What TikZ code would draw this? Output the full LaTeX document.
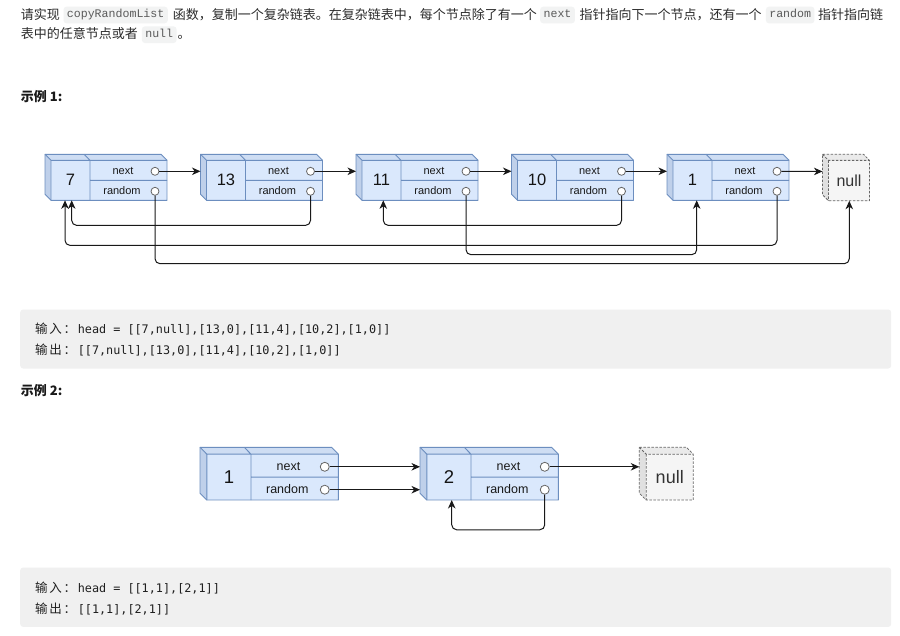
\documentclass[tikz,border=0pt]{standalone}
\usepackage{fontspec}
\setmainfont{Liberation Sans}
\newfontfamily\cjk{Noto Sans CJK SC}
\newfontfamily\imono{Liberation Mono}
\newfontfamily\dmono{DejaVu Sans Mono}
\usetikzlibrary{arrows.meta}
\definecolor{nfill}{HTML}{DAE8FC}
\definecolor{nline}{HTML}{6C8EBF}
\definecolor{nside}{HTML}{BFD0EA}
\definecolor{ntop}{HTML}{CEDDF3}
\definecolor{gfill}{HTML}{F5F5F5}
\definecolor{gline}{HTML}{666666}
\definecolor{gside}{HTML}{E0E0E0}
\definecolor{gtop}{HTML}{EAEAEA}
\definecolor{codebg}{HTML}{F0F0F0}
\definecolor{icbg}{HTML}{F2F3F3}
\definecolor{txt}{HTML}{2B2B2B}
\definecolor{ictxt}{HTML}{5A5A5A}
\tikzset{
  body/.style={font=\cjk\fontsize{13}{15}\selectfont, text=txt, inner sep=0pt, anchor=base west},
  head/.style={font=\cjk\bfseries\fontsize{13}{15}\selectfont, text=black!90, inner sep=0pt, anchor=base west},
  ic/.style={font=\imono\fontsize{11.6}{13}\selectfont, text=ictxt, fill=icbg, rounded corners=3pt,
    inner xsep=3.4pt, inner ysep=0pt, minimum height=16.6pt, text height=8pt, text depth=2.4pt, anchor=west},
  codeblk/.style={fill=codebg, rounded corners=3pt, draw=none, anchor=north west, inner sep=0pt},
  codeline/.style={font=\dmono\fontsize{11.8}{14}\selectfont, text=black!88, inner sep=0pt, anchor=base west},
  valA/.style={font=\fontsize{16.5}{18}\selectfont, text=black!92, inner sep=0pt},
  valB/.style={font=\fontsize{18.5}{20}\selectfont, text=black!92, inner sep=0pt},
  fldA/.style={font=\fontsize{11}{12}\selectfont, text=black!90, inner sep=0pt},
  fldB/.style={font=\fontsize{12.5}{14}\selectfont, text=black!90, inner sep=0pt},
  portA/.style={circle, draw=gline, fill=white, line width=0.8pt, minimum size=8pt, inner sep=0pt},
  portB/.style={circle, draw=gline, fill=white, line width=0.8pt, minimum size=9pt, inner sep=0pt},
  nullA/.style={font=\fontsize{16}{18}\selectfont, text=black!80, inner sep=0pt},
  nullB/.style={font=\fontsize{18}{20}\selectfont, text=black!80, inner sep=0pt},
  link/.style={draw=black!90, line width=1pt, rounded corners=5pt, -{Stealth[length=8.5pt,width=7.5pt,inset=2.6pt]}},
}
\newcommand{\cjkcell}[1]{\makebox[14.2pt][l]{\cjk\fontsize{12.5}{14}\selectfont #1}}
% list node: name, X, Y, xscale, yscale, value, size tag
\newcommand{\lnode}[7]{%
  \begin{scope}[shift={(#2,#3)},xscale=#4,yscale=#5]
    \fill[nside] (0,0) -- (6,6) -- (6,46) -- (0,40) -- cycle;
    \fill[ntop] (0,0) -- (116,0) -- (122,6) -- (6,6) -- cycle;
    \fill[nfill] (6,6) rectangle (122,46);
    \draw[nline, line width=0.9pt, line join=round] (0,0) -- (116,0) -- (122,6) -- (122,46) -- (6,46) -- (0,40) -- cycle;
    \draw[nline, line width=0.9pt] (0,0) -- (6,6) -- (122,6) (6,6) -- (6,46) (39,0) -- (45,6) -- (45,46) (45,26) -- (122,26);
    \node[val#7] (#1v) at (25.5,26) {#6};
    \node[fld#7] (#1nt) at (78,16.8) {next};
    \node[fld#7] (#1rt) at (77,36.4) {random};
    \node[port#7] (#1n) at (110,17) {};
    \node[port#7] (#1r) at (110,37) {};
    \coordinate (#1w) at (0,17);
    \coordinate (#1x) at (0,37);
    \coordinate (#1b) at (25.5,46);
  \end{scope}}
% null node: name, X, Y, xscale, yscale, size tag
\newcommand{\nnode}[6]{%
  \begin{scope}[shift={(#2,#3)},xscale=#4,yscale=#5]
    \fill[gside] (0,0) -- (6,6) -- (6,46) -- (0,40) -- cycle;
    \fill[gtop] (0,0) -- (41,0) -- (47,6) -- (6,6) -- cycle;
    \fill[gfill] (6,6) rectangle (47,46);
    \draw[gline, line width=0.8pt, dash pattern=on 2.5pt off 1.5pt, line join=round] (0,0) -- (41,0) -- (47,6) -- (47,46) -- (6,46) -- (0,40) -- cycle (0,0) -- (6,6) -- (47,6) (6,6) -- (6,46);
    \node[null#6] (#1v) at (26.5,26) {null};
    \coordinate (#1w) at (0,17);
    \coordinate (#1b) at (26.5,46);
  \end{scope}}
\begin{document}
\begin{tikzpicture}[x=1pt,y=-1pt]
  \fill[white] (0,0) rectangle (900,635);
  \path[use as bounding box] (0,0) rectangle (900,635);

  % intro text
  \node[body] (p1a) at (20.7,19.9) {请实现};
  \node[ic] (p1b) at (63.3,15) {copyRandomList};
  \node[body] (p1c) at (172.7,19.9) {函数，复制一个复杂链表。在复杂链表中，每个节点除了有一个};
  \node[ic] (p1d) at (540,15) {next};
  \node[body] (p1e) at (579.3,19.9) {指针指向下一个节点，还有一个};
  \node[ic] (p1f) at (765.7,15) {random};
  \node[body] (p1g) at (818,19.9) {指针指向链};
  \node[body] (p2a) at (20.7,38.4) {表中的任意节点或者};
  \node[ic] (p2b) at (141.7,34.7) {null};
  \node[body] (p2c) at (177.5,38.4) {。};

  \node[head] (ex1) at (20.7,101.6) {示例 1:};

  % example 1
  \lnode{a7}{45}{154.3}{1}{1}{7}{A}
  \lnode{a13}{200.5}{154.3}{1}{1}{13}{A}
  \lnode{a11}{356}{154.3}{1}{1}{11}{A}
  \lnode{a10}{511.5}{154.3}{1}{1}{10}{A}
  \lnode{a1}{667}{154.3}{1}{1}{1}{A}
  \nnode{anull}{822.5}{154.3}{1}{1.01}{A}

  \draw[link] (a7n.east) -- (a13w);
  \draw[link] (a13n.east) -- (a11w);
  \draw[link] (a11n.east) -- (a10w);
  \draw[link] (a10n.east) -- (a1w);
  \draw[link] (a1n.east) -- (anullw);

  \draw[link] (a13r.south) -- ++(0,29.7) -| ([xshift=1.2pt]a7b);
  \draw[link] (a1r.south) -- ++(0,49.7) -| ([xshift=-5.5pt]a7b);
  \draw[link] (a11r.south) -- ++(0,59) -| ([xshift=4.2pt]a1b);
  \draw[link] (a10r.south) -- ++(0,29.7) -| ([xshift=1.8pt]a11b);
  \draw[link] (a7r.south) -- ++(0,68) -| ([xshift=0.3pt]anullb);

  % code block 1
  \node[codeblk, minimum width=871pt, minimum height=59pt] (cb1) at (20,309.3) {};
  \node[codeline] (cb1a) at (35,333.5) {\cjkcell{输}\cjkcell{入}\cjkcell{：}head = [[7,null],[13,0],[11,4],[10,2],[1,0]]};
  \node[codeline] (cb1b) at (35,354.2) {\cjkcell{输}\cjkcell{出}\cjkcell{：}[[7,null],[13,0],[11,4],[10,2],[1,0]]};

  \node[head] (ex2) at (20.7,395.6) {示例 2:};

  % example 2
  \lnode{b1}{200}{447.3}{1.134}{1.146}{1}{B}
  \lnode{b2}{420}{447.3}{1.134}{1.146}{2}{B}
  \nnode{bnull}{639.3}{447.3}{1.149}{1.146}{B}

  \draw[link] (b1n.east) -- (b2w);
  \draw[link] (b1r.east) -- (b2x);
  \draw[link] (b2r.south) -- ++(0,35.2) -| ([xshift=2.8pt]b2b);
  \draw[link] (b2n.east) -- (bnullw);

  % code block 2
  \node[codeblk, minimum width=871pt, minimum height=59.4pt] (cb2) at (20,567.3) {};
  \node[codeline] (cb2a) at (35,592.5) {\cjkcell{输}\cjkcell{入}\cjkcell{：}head = [[1,1],[2,1]]};
  \node[codeline] (cb2b) at (35,613.5) {\cjkcell{输}\cjkcell{出}\cjkcell{：}[[1,1],[2,1]]};
\end{tikzpicture}
\end{document}
